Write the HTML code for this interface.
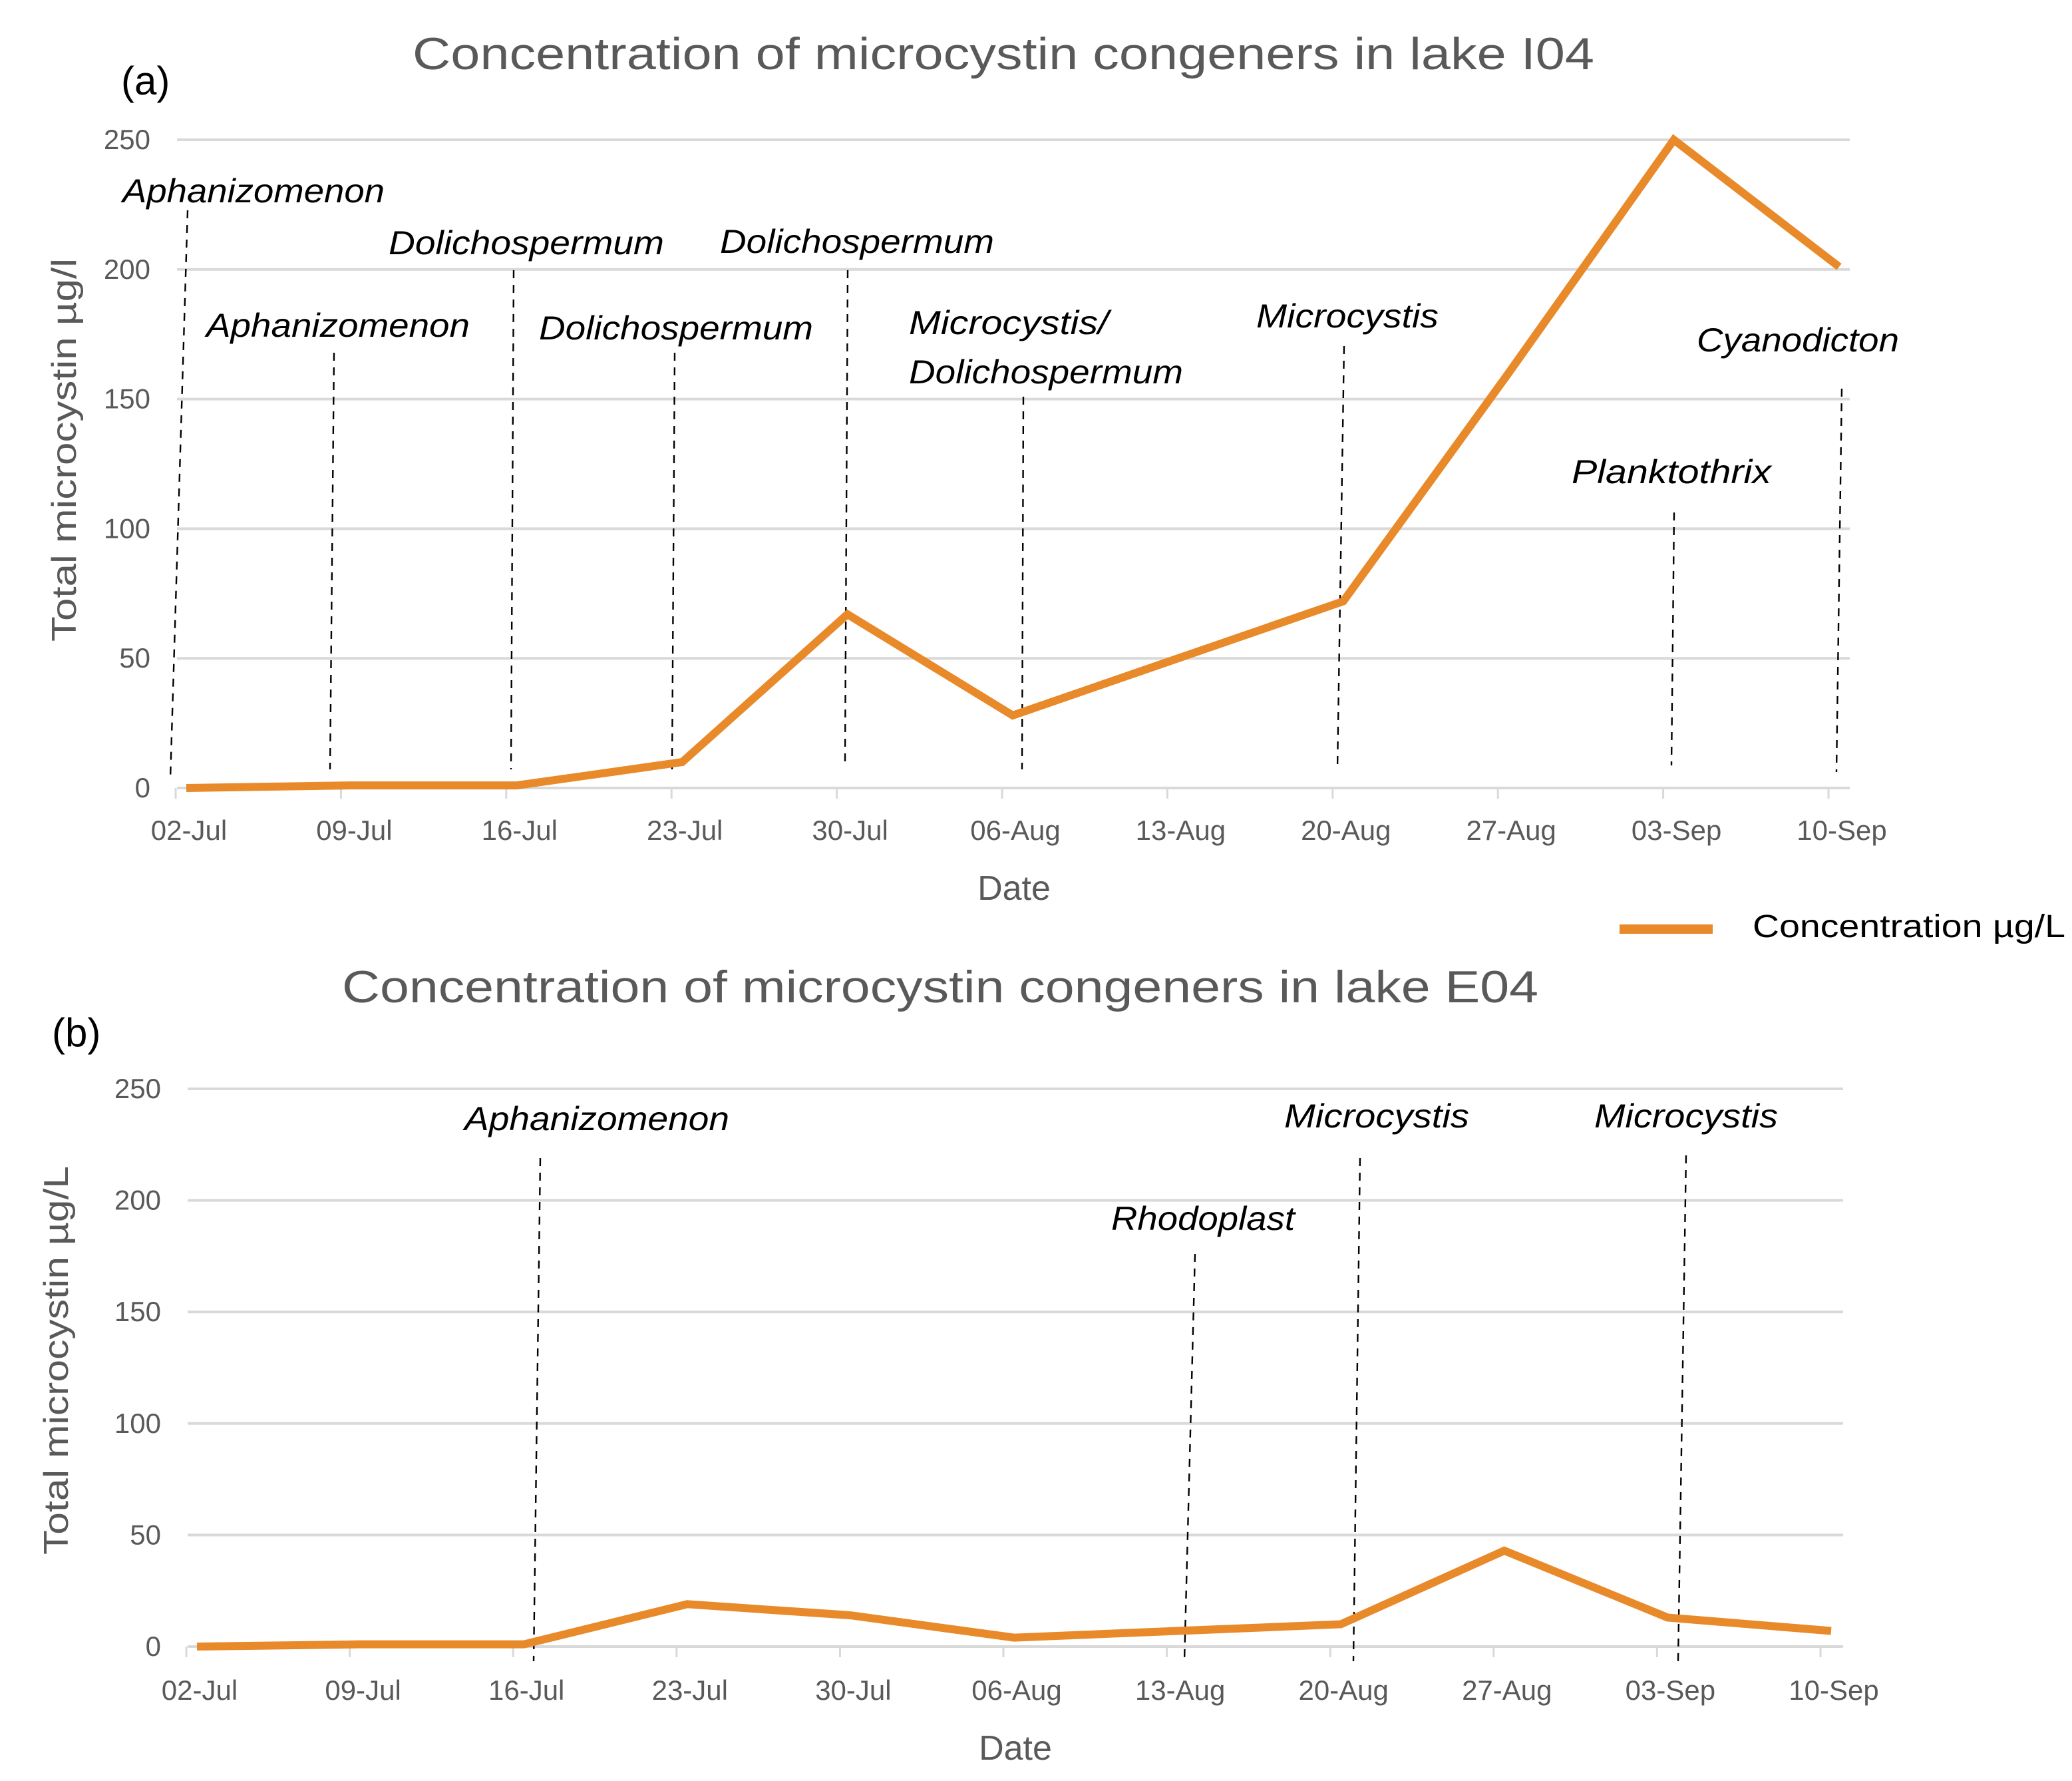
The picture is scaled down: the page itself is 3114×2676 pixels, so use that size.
<!DOCTYPE html>
<html><head><meta charset="utf-8">
<style>
html,body{margin:0;padding:0;background:#fff;}
svg{display:block;}
text{font-family:"Liberation Sans",sans-serif;}
.tick{fill:#595959;font-size:21px;}
.ann{font-style:italic;font-size:25px;fill:#000;}
.title{fill:#595959;font-size:34px;}
.axt{fill:#595959;font-size:26px;}
.grid{stroke:#d9d9d9;stroke-width:2;}
.dash{stroke:#000;stroke-width:1.2;stroke-dasharray:6,5;fill:none;}
.series{stroke:#e8892a;stroke-width:6;fill:none;stroke-linejoin:miter;}
</style></head>
<body>
<svg id="fig" width="3114" height="2676" viewBox="0 0 1557 1338" xmlns="http://www.w3.org/2000/svg"></svg>
<script>
const categories = ["02-Jul","09-Jul","16-Jul","23-Jul","30-Jul","06-Aug","13-Aug","20-Aug","27-Aug","03-Sep","10-Sep"];
const yTicks = [0,50,100,150,200,250];
const valuesI04 = [0,1,1,10,67,28,50,72,160,250,201];
const valuesE04 = [0,1,1,19,14,4,7,10,43,13,7];
const annTextI04 = [["Aphanizomenon"],["Aphanizomenon"],["Dolichospermum"],["Dolichospermum"],["Dolichospermum"],["Microcystis/","Dolichospermum"],["Microcystis"],["Planktothrix"],["Cyanodicton"]];
const annE04 = [["Aphanizomenon"],["Rhodoplast"],["Microcystis"],["Microcystis"]];

const NS="http://www.w3.org/2000/svg";
const svg=document.getElementById('fig');
function mk(tag,attrs,parent,txt){const e=document.createElementNS(NS,tag);for(const k in attrs)e.setAttribute(k,attrs[k]);if(txt!==undefined)e.textContent=txt;(parent||svg).appendChild(e);return e;}

function chart(cfg){
  const g=mk('g',{});
  
  
  const xs=i=>cfg.x0+i*(cfg.x1-cfg.x0)/(categories.length-1);
  const ys=v=>cfg.yb+(cfg.yt-cfg.yb)*v/250;
  yTicks.forEach(t=>{
    const l=mk('line',{x1:cfg.gx0,x2:cfg.gx1,y1:ys(t),y2:ys(t),class:'grid'},g);
    
    
    const tx=mk('text',{x:cfg.gx0-20,y:ys(t)+7,class:'tick','text-anchor':'end'},g,String(t));
    
    
  });
  categories.forEach((c,i)=>{
    const tk=mk('line',{x1:xs(i)-8,x2:xs(i)-8,y1:ys(0),y2:ys(0)+8,stroke:'#d9d9d9','stroke-width':1.5},g);
    
    
    const tx=mk('text',{x:xs(i)+2,y:cfg.xlabY,class:'tick','text-anchor':'middle'},g,c);
    
    
  });
  cfg.ann.forEach((a,k)=>{
    const p=cfg.annPos[k];
    const ln=mk('line',{x1:p.lx1,y1:p.ly1,x2:p.lx2,y2:p.ly2,class:'dash'},g);
    
    
    a.forEach((s,j)=>{
      const t=mk('text',{x:p.tx,y:p.ty+j*37,class:'ann',textLength:p.w[j],lengthAdjust:'spacingAndGlyphs'},g,s);
      
      
    });
  });
  const pts=cfg.vals.map((v,i)=>xs(i)+','+ys(v)).join(' ');
  const pl=mk('polyline',{points:pts,class:'series'},g);
  
  
  const tt=mk('text',{x:cfg.titleX,y:cfg.titleY,class:'title',textLength:cfg.titleW,lengthAdjust:'spacingAndGlyphs'},g,cfg.title);
  
  
  const pn=mk('text',{x:cfg.panelX,y:cfg.panelY,'font-size':30,fill:'#000'},g,cfg.panel);
  
  
  const yt=mk('text',{x:0,y:0,class:'axt','text-anchor':'middle',transform:`translate(${cfg.ytX},${cfg.ytY}) rotate(-90)`,textLength:cfg.ytW,lengthAdjust:'spacingAndGlyphs'},g,cfg.ytitle);
  
  
  const xt=mk('text',{x:cfg.dateX,y:cfg.dateY,class:'axt','text-anchor':'middle'},g,'Date');
  
  
}

chart({name:'chart-lake-i04',x0:140,x1:1382,yb:592,yt:105,gx0:133,gx1:1390,xlabY:631,vals:valuesI04,
  title:'Concentration of microcystin congeners in lake I04',titleX:310,titleY:52,titleW:888,
  panel:'(a)',panelX:91,panelY:71,ytitle:'Total microcystin µg/l',ytX:57,ytY:338,ytW:288,dateX:762,dateY:676,
  ann:annTextI04,annPos:[
   {tx:92,ty:152,w:[197],lx1:141,ly1:158,lx2:128,ly2:585},
   {tx:155,ty:253,w:[198],lx1:251,ly1:265,lx2:248,ly2:578},
   {tx:292,ty:191,w:[207],lx1:386,ly1:203,lx2:384,ly2:578},
   {tx:405,ty:255,w:[206],lx1:507,ly1:265,lx2:505,ly2:578},
   {tx:541,ty:190,w:[206],lx1:637,ly1:203,lx2:635,ly2:573},
   {tx:683,ty:251,w:[150,206],lx1:769,ly1:298,lx2:768,ly2:578},
   {tx:944,ty:246,w:[137],lx1:1010,ly1:260,lx2:1005,ly2:578},
   {tx:1181,ty:363,w:[150],lx1:1258,ly1:385,lx2:1256,ly2:575},
   {tx:1275,ty:264,w:[152],lx1:1384,ly1:292,lx2:1380,ly2:580}]});

chart({name:'chart-lake-e04',x0:148,x1:1376,yb:1237,yt:818,gx0:141,gx1:1385,xlabY:1277,vals:valuesE04,
  title:'Concentration of microcystin congeners in lake E04',titleX:257,titleY:753,titleW:899,
  panel:'(b)',panelX:39,panelY:786,ytitle:'Total microcystin µg/L',ytX:51,ytY:1022,ytW:292,dateX:763,dateY:1322,
  ann:annE04,annPos:[
   {tx:349,ty:849,w:[199],lx1:406,ly1:870,lx2:401,ly2:1248},
   {tx:835,ty:924,w:[138],lx1:898,ly1:942,lx2:890,ly2:1248},
   {tx:965,ty:847,w:[139],lx1:1022,ly1:870,lx2:1017,ly2:1248},
   {tx:1198,ty:847,w:[138],lx1:1267,ly1:868,lx2:1261,ly2:1248}]});

const lg=mk('g',{});


mk('line',{x1:1217,x2:1287,y1:698,y2:698,stroke:'#e8892a','stroke-width':7},lg);
mk('text',{x:1317,y:704,'font-size':24,fill:'#000',textLength:235,lengthAdjust:'spacingAndGlyphs'},lg,'Concentration µg/L');
</script>
</body></html>
